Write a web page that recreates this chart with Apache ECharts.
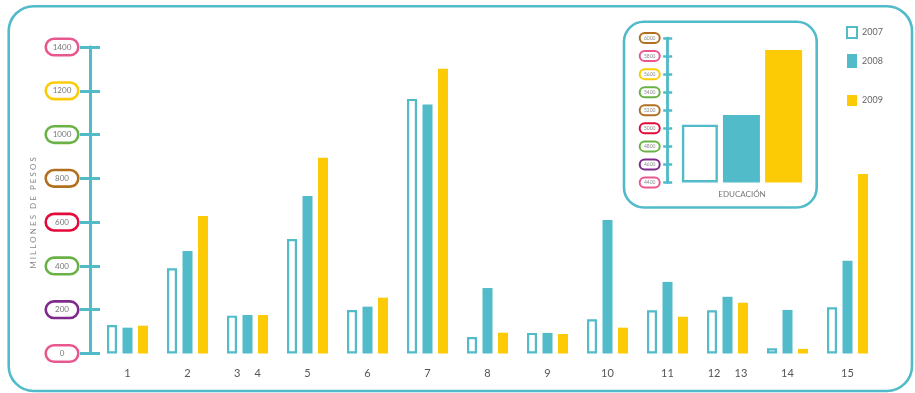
<!DOCTYPE html>
<html>
<head>
<meta charset="utf-8">
<script src="https://cdn.jsdelivr.net/npm/echarts@6/dist/echarts.min.js"></script>
<style>
html,body{margin:0;padding:0;background:#fff;}
#c{width:915px;height:393px;}
</style>
</head>
<body>
<div id="c"></div>
<script>
// ---- data ----
const categories = ['1','2','3 4','5','6','7','8','9','10','11','12 13','14','15'];
const v2007 = [130, 389, 173, 523, 199, 1163, 75, 94, 156, 197, 197, 24, 211];
const v2008 = [118, 468, 176, 719, 214, 1137, 299, 94, 610, 327, 259, 199, 424];
const v2009 = [127, 628, 176, 894, 255, 1301, 95, 89, 118, 168, 232, 21, 820];
const yTicks = [0, 200, 400, 600, 800, 1000, 1200, 1400];

const insetCategories = ['EDUCACIÓN'];
const inset2007 = [5040];
const inset2008 = [5147];
const inset2009 = [5867];
const insetTicks = [4400, 4600, 4800, 5000, 5200, 5400, 5600, 5800, 6000];

// ---- styles ----
const TEAL = '#52bbc9';
const YELLOW = '#fccb05';
const PINK = '#e8588e', PURPLE = '#7d2a8a', GREEN = '#6ab245', RED = '#e30a3a', BROWN = '#b26f1f';
const mainTickColors = [PINK, PURPLE, GREEN, RED, BROWN, GREEN, YELLOW, PINK];
const insetTickColors = [PINK, PURPLE, GREEN, RED, BROWN, GREEN, YELLOW, PINK, BROWN];
const FONT = 'Lato';

function makeRich(ticks, colors, big) {
  const rich = {};
  ticks.forEach((t, i) => {
    rich['c' + t] = big ? {
      width: 24, height: 10, lineHeight: 10, padding: [2, 3, 2, 3],
      borderColor: colors[i], borderWidth: 2.6, borderRadius: 7,
      backgroundColor: '#fff', align: 'center', fontSize: 8, color: '#777', fontFamily: FONT
    } : {
      width: 14, height: 5, lineHeight: 5, padding: [1.5, 2, 1.5, 2],
      borderColor: colors[i], borderWidth: 2, borderRadius: 4,
      backgroundColor: '#fff', align: 'center', fontSize: 5, color: '#888', fontFamily: FONT
    };
  });
  return rich;
}

const chart = echarts.init(document.getElementById('c'), null, {renderer: 'canvas'});

const mainYBase = {
  type: 'value', gridIndex: 0, min: 0, max: 1400, interval: 200,
  position: 'left', offset: 7.5,
  splitLine: {show: false},
  axisLine: {show: true, lineStyle: {color: TEAL, width: 3}}
};
const insetYBase = {
  type: 'value', gridIndex: 1, min: 4400, max: 6000, interval: 200, startValue: 4400,
  position: 'left', splitLine: {show: false},
  axisLine: {show: true, lineStyle: {color: TEAL, width: 2.5}}
};

const legendText = {fontSize: 9, color: '#666', fontFamily: FONT};

const option = {
  animation: false,
  textStyle: {fontFamily: FONT},
  grid: [
    {left: 97.5, right: 37.5, top: 47, bottom: 39.5},
    {left: 667.7, right: 98.7, top: 38, bottom: 210.5}
  ],
  legend: [
    {data: ['2007'], left: 841, top: 21, padding: 5, orient: 'vertical', icon: 'rect', itemWidth: 10, itemHeight: 11,
     textStyle: legendText, selectedMode: false},
    {data: ['2008'], left: 842, top: 49, padding: 5, orient: 'vertical', icon: 'rect', itemWidth: 10, itemHeight: 14,
     textStyle: legendText, selectedMode: false},
    {data: ['2009'], left: 842, top: 90, padding: 5, orient: 'vertical', icon: 'rect', itemWidth: 10, itemHeight: 11,
     textStyle: legendText, selectedMode: false}
  ],
  xAxis: [
    {type: 'category', gridIndex: 0, data: categories,
     axisLine: {show: false}, axisTick: {show: false},
     axisLabel: {margin: 14, fontSize: 11, color: '#555', fontFamily: FONT,
       formatter: v => v.split(' ').join('{g|}'),
       rich: {g: {width: 14}}}},
    {type: 'category', gridIndex: 1, data: insetCategories,
     axisLine: {show: false}, axisTick: {show: false},
     axisLabel: {margin: 8, fontSize: 8, color: '#777', fontFamily: FONT}}
  ],
  yAxis: [
    Object.assign({}, mainYBase, {
      axisTick: {show: true, inside: false, length: 10, lineStyle: {color: TEAL, width: 3}},
      axisLabel: {margin: 13, formatter: v => '{c' + v + '|' + v + '}', rich: makeRich(yTicks, mainTickColors, true)}
    }),
    Object.assign({}, mainYBase, {
      axisTick: {show: true, inside: true, length: 10, lineStyle: {color: TEAL, width: 3}},
      axisLabel: {show: false}
    }),
    Object.assign({}, insetYBase, {
      axisTick: {show: true, inside: false, length: 4.5, lineStyle: {color: TEAL, width: 2.5}},
      axisLabel: {margin: 9, formatter: v => '{c' + v + '|' + v + '}', rich: makeRich(insetTicks, insetTickColors, false)}
    }),
    Object.assign({}, insetYBase, {
      axisTick: {show: true, inside: true, length: 4.5, lineStyle: {color: TEAL, width: 2.5}},
      axisLabel: {show: false}
    })
  ],
  series: [
    {name: '2007', type: 'bar', xAxisIndex: 0, yAxisIndex: 0, data: v2007, barWidth: 10, barGap: '55%', clip: false,
     itemStyle: {color: '#fff', borderColor: TEAL, borderWidth: 2.2}},
    {name: '2008', type: 'bar', xAxisIndex: 0, yAxisIndex: 0, data: v2008, barWidth: 10, barGap: '55%', clip: false,
     itemStyle: {color: TEAL}},
    {name: '2009', type: 'bar', xAxisIndex: 0, yAxisIndex: 0, data: v2009, barWidth: 10, barGap: '55%', clip: false,
     itemStyle: {color: YELLOW}},
    {name: '2007', type: 'bar', xAxisIndex: 1, yAxisIndex: 2, data: inset2007, barWidth: 36, barGap: '16%',
     itemStyle: {color: '#fff', borderColor: TEAL, borderWidth: 2.4}},
    {name: '2008', type: 'bar', xAxisIndex: 1, yAxisIndex: 2, data: inset2008, barWidth: 37, barGap: '14%',
     itemStyle: {color: TEAL}},
    {name: '2009', type: 'bar', xAxisIndex: 1, yAxisIndex: 2, data: inset2009, barWidth: 37, barGap: '14%',
     itemStyle: {color: YELLOW}}
  ],
  graphic: [
    {type: 'rect', shape: {x: 8.7, y: 6.2, width: 903.3, height: 384.8, r: 25},
     style: {fill: 'none', stroke: TEAL, lineWidth: 2.6}, z: -1, silent: true},
    {type: 'rect', shape: {x: 624, y: 21.8, width: 192.7, height: 185.7, r: 20},
     style: {fill: 'none', stroke: TEAL, lineWidth: 2.6}, z: -1, silent: true},
    {type: 'text', x: 33, y: 213, rotation: Math.PI / 2, silent: true,
     style: {text: 'M I L L O N E S   D E   P E S O S', fontSize: 8, fill: '#888', fontFamily: FONT,
       align: 'center', verticalAlign: 'middle'}}
  ]
};
chart.setOption(option);
</script>
</body>
</html>
